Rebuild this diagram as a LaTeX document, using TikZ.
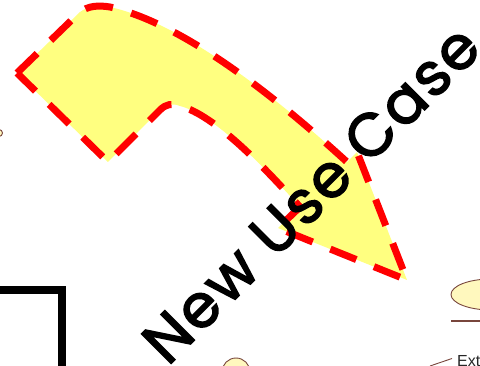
\documentclass[tikz,border=0pt]{standalone}
\usepackage{fontspec}
\newfontfamily\comicfont{Poppins}[FakeBold=2.5,LetterSpace=4]
\setsansfont{Liberation Sans}
\begin{document}
\begin{tikzpicture}[x=1pt,y=-1pt,
  arrowshape/.style={fill=arrowyellow,draw=red,line width=7pt,dash pattern=on 28pt off 19pt,line join=miter},
  umlline/.style={draw=umlbrown,line width=0.9pt},
  umlfill/.style={fill=umlcream,draw=umlbrown,line width=0.9pt}]
\definecolor{arrowyellow}{RGB}{255,255,128}
\definecolor{umlbrown}{RGB}{120,70,60}
\definecolor{umlcream}{RGB}{255,248,190}
\useasboundingbox (0,0) rectangle (480,366);
\clip (0,0) rectangle (480,366);
% background fragments of the UML diagram
\draw[umlfill] (-1,133) circle (3.5);
\draw[line width=8pt] (-6,290) -- (62,290) -- (62,372);
\draw[umlfill] (491,294.5) ellipse (40 and 15.5);
\draw[umlline,line width=1.4pt] (451,321) -- (485,321);
\draw[umlline] (430,366) -- (452,358.5);
\node[anchor=base west,inner sep=0pt,font=\sffamily\fontsize{16}{18}\selectfont,text=black!85] (ext) at (457,367) {Extend};
\draw[umlfill] (236,372) circle (14);
% bent arrow
\path[arrowshape] (17,73) -- (80,12) .. controls (88,6) and (98,5) .. (110,7)
  .. controls (190,25) and (290,110) .. (347,162)
  -- (357,152) -- (407,280) -- (278,228) -- (300,207)
  .. controls (265,168) and (215,115) .. (180,106)
  .. controls (172,103) and (166,104) .. (160,110)
  -- (108,162) -- cycle;
% label
\node[rotate=45,inner sep=0pt,font=\comicfont\fontsize{60}{70}\selectfont] (title) at (311,194) {New Use Case};
\end{tikzpicture}
\end{document}
